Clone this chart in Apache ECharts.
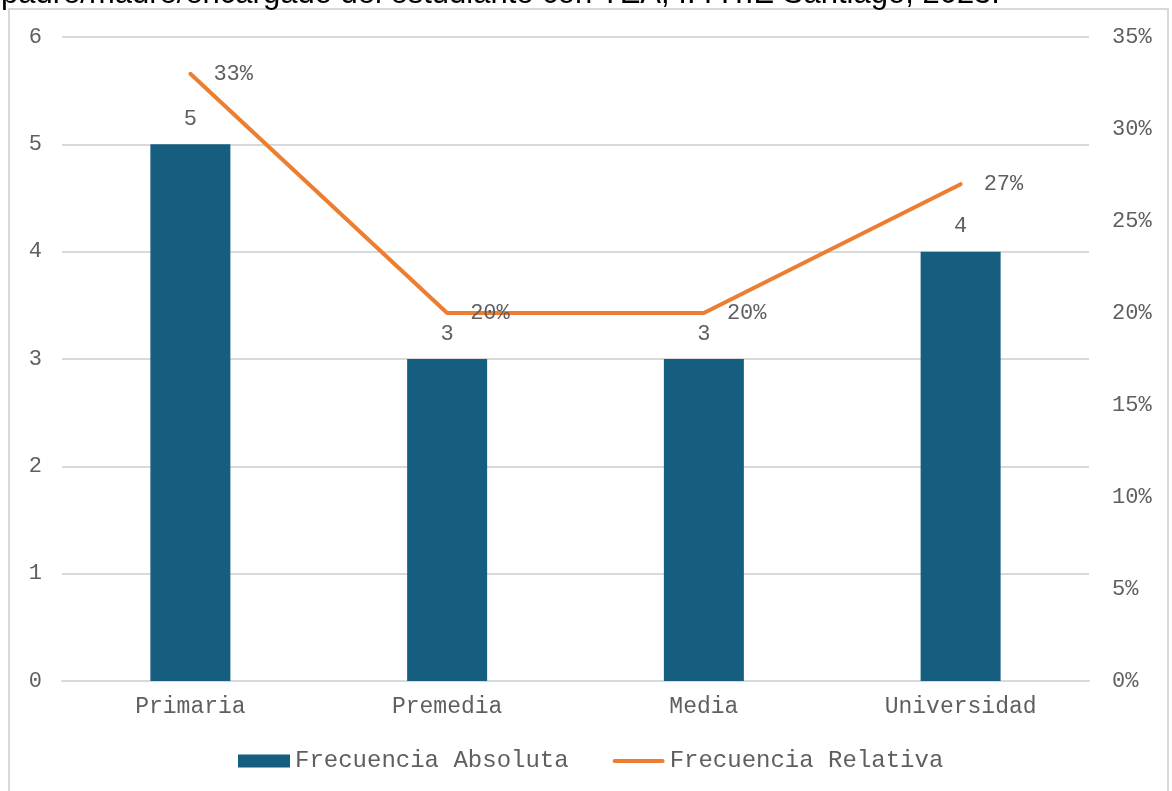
<!DOCTYPE html>
<html>
<head>
<meta charset="utf-8">
<style>
  html, body { margin: 0; padding: 0; background: #ffffff; }
  #chart { width: 1172px; height: 791px; }
</style>
<script src="https://cdn.jsdelivr.net/npm/echarts@6/dist/echarts.min.js"></script>
</head>
<body>
<div id="chart"></div>
<script>
// Nivel educativo del padre/madre/encargado
const categories = ['Primaria', 'Premedia', 'Media', 'Universidad'];
const absoluteFreq = [5, 3, 3, 4];          // Frecuencia Absoluta
const relativeFreq = [33, 20, 20, 27];      // Frecuencia Relativa (%)
const leftTicks = { min: 0, max: 6, step: 1 };
const rightTicks = { min: 0, max: 35, step: 5 };
const captionText = 'padre/madre/encargado del estudiante con TEA, I. P.T.E Santiago, 2023.';

const mono = '"Liberation Mono", "Courier New", monospace';
const grey = '#5f5f5f';
const orange = '#ED7D31';
const teal = '#165e80';

const chart = echarts.init(document.getElementById('chart'), null, { renderer: 'canvas' });

chart.setOption({
  backgroundColor: '#ffffff',
  animation: false,
  graphic: [
    {
      type: 'rect',
      shape: { x: 9, y: 9, width: 1159, height: 800 },
      style: { fill: '#ffffff', stroke: '#d9d9d9', lineWidth: 2 },
      z: -10
    },
    {
      type: 'text',
      left: 1,
      top: -21,
      style: {
        text: captionText,
        font: '31px "Liberation Sans", Arial, sans-serif',
        fill: '#000000'
      },
      z: 10
    }
  ],
  grid: { left: 62, right: 83, top: 37, bottom: 110, containLabel: false },
  legend: {
    left: 233,
    top: 744,
    itemWidth: 52,
    itemHeight: 13,
    itemGap: 44,
    textStyle: { fontFamily: mono, fontSize: 24, color: grey },
    data: [
      { name: 'Frecuencia Absoluta', icon: 'rect' },
      {
        name: 'Frecuencia Relativa',
        icon: 'path://M2,0 L50,0 A2,2 0 0 1 50,4 L2,4 A2,2 0 0 1 2,0 Z'
      }
    ]
  },
  xAxis: {
    type: 'category',
    data: categories,
    axisTick: { show: false },
    axisLine: { lineStyle: { color: '#d9d9d9', width: 2 } },
    axisLabel: { margin: 14, fontFamily: mono, fontSize: 23, color: grey }
  },
  yAxis: [
    {
      type: 'value',
      min: leftTicks.min,
      max: leftTicks.max,
      interval: leftTicks.step,
      axisLine: { show: false },
      axisTick: { show: false },
      splitLine: { lineStyle: { color: '#d9d9d9', width: 2 } },
      axisLabel: { margin: 20, fontFamily: mono, fontSize: 22, color: grey }
    },
    {
      type: 'value',
      min: rightTicks.min,
      max: rightTicks.max,
      interval: rightTicks.step,
      axisLine: { show: false },
      axisTick: { show: false },
      splitLine: { show: false },
      axisLabel: { margin: 23, fontFamily: mono, fontSize: 22, color: grey, formatter: '{value}%' }
    }
  ],
  series: [
    {
      name: 'Frecuencia Absoluta',
      type: 'bar',
      data: absoluteFreq,
      yAxisIndex: 0,
      barWidth: 80,
      itemStyle: { color: teal },
      label: {
        show: true,
        position: 'top',
        distance: 14,
        fontFamily: mono,
        fontSize: 22,
        color: grey
      }
    },
    {
      name: 'Frecuencia Relativa',
      type: 'line',
      data: relativeFreq,
      yAxisIndex: 1,
      symbol: 'circle',
      symbolSize: 2,
      showSymbol: true,
      lineStyle: { color: orange, width: 4, cap: 'round', join: 'round' },
      itemStyle: { color: orange },
      label: {
        show: true,
        position: 'right',
        distance: 22,
        fontFamily: mono,
        fontSize: 22,
        color: grey,
        formatter: p => p.value + '%'
      },
      z: 5
    }
  ]
});
</script>
</body>
</html>
